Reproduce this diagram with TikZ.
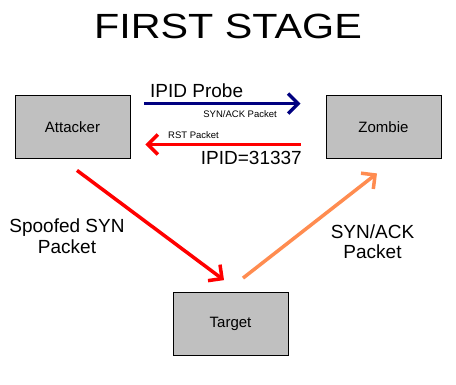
\documentclass[tikz,border=0pt]{standalone}
\usepackage{fontspec}
\setmainfont{Liberation Sans}
\usetikzlibrary{arrows.meta,calc}
\definecolor{boxgray}{RGB}{192,192,192}
\definecolor{probeblue}{RGB}{0,0,128}
\definecolor{replyorange}{RGB}{255,140,80}
\tikzset{
  hostbox/.style={draw=black,line width=0.8pt,fill=boxgray,minimum width=115pt,minimum height=63pt,inner sep=0pt,font=\fontsize{15}{17}\selectfont},
  packetarrow/.style={line width=3.5pt,-{Straight Barb[length=10pt,width=20pt]}},
  biglabel/.style={inner sep=0pt,font=\fontsize{19}{21}\selectfont},
  smalllabel/.style={inner sep=0pt,font=\fontsize{9.5}{11}\selectfont}
}
\begin{document}
\begin{tikzpicture}[x=1pt,y=-1pt]
    \useasboundingbox[fill=white] (0,0) rectangle (456,384);
    \node[inner sep=0pt,anchor=base,font=\fontsize{35}{40}\selectfont] (title) at (228,38) {\scalebox{1.18}[1]{FIRST STAGE}};
    % hosts
    \node[hostbox] (attacker) at (72.5,127) {Attacker};
    \node[hostbox] (zombie) at (383.5,127) {Zombie};
    \node[hostbox] (target) at (230.5,324) {Target};
    % probe and reply
    \draw[packetarrow,probeblue] ($(attacker.north east)+(14,8.5)$) -- ($(zombie.north west)+(-25,8.5)$);
    \draw[packetarrow,red] ($(zombie.south west)+(-25,-14.5)$) -- ($(attacker.south east)+(15,-14.5)$);
    \node[biglabel,anchor=base west] (probe) at (150,97.5) {IPID Probe};
    \node[smalllabel,anchor=base east] (synack) at (277,117) {SYN/ACK Packet};
    \node[smalllabel,anchor=base west] (rst) at (168,138) {RST Packet};
    \node[biglabel,anchor=base east] (ipid) at (302,164) {IPID=31337};
    % spoofed packet and answer
    \draw[packetarrow,red] ($(attacker.south)+(4.5,11.5)$) -- ($(target.north)+(-6.5,-12)$);
    \draw[packetarrow,replyorange] ($(target.north)+(12.5,-14)$) -- ($(zombie.south)+(-6.5,14.5)$);
    \node[biglabel,align=center,anchor=base] (spoofed) at (67,253) {Spoofed SYN\\Packet};
    \node[biglabel,align=center,anchor=base,font=\fontsize{19}{20}\selectfont] (answer) at (372.5,258.5) {SYN/ACK\\Packet};
\end{tikzpicture}
\end{document}
